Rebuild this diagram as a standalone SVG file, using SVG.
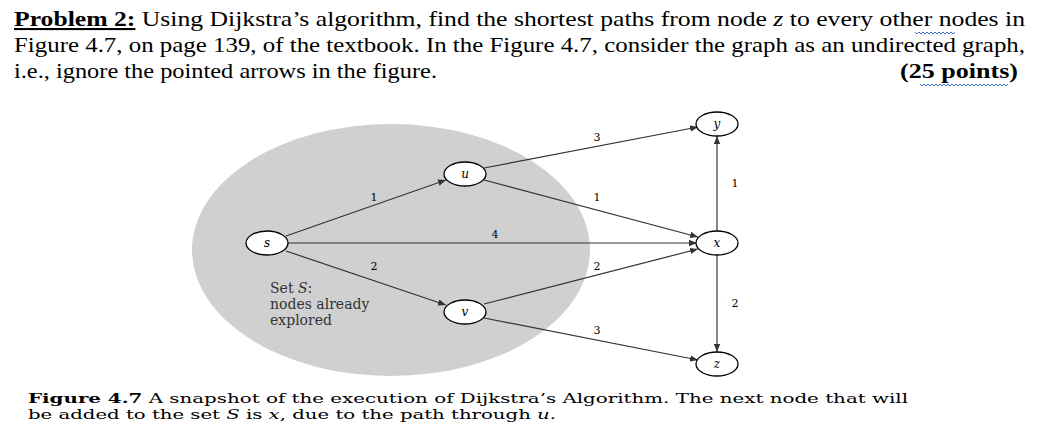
<svg xmlns="http://www.w3.org/2000/svg" width="1042" height="440" viewBox="0 0 1042 440">
<style>
.t{font-family:"Liberation Serif",serif;font-size:21px;fill:#000}
.n{fill:#fff;stroke:#000;stroke-width:1.3}
.nl{font-family:"DejaVu Serif",serif;font-style:italic;font-size:12px;text-anchor:middle}
.w{font-family:"DejaVu Serif",serif;font-size:11px;text-anchor:middle}
.e{stroke:#333;stroke-width:1.2;fill:none;marker-end:url(#a)}
.c{font-family:"DejaVu Serif",serif;font-size:13px}
.sq{stroke:#3a6fd8;fill:none;stroke-width:1}
</style>
<defs><marker id="a" viewBox="0 0 10 10" refX="10" refY="5" markerWidth="8" markerHeight="8" orient="auto-start-reverse" markerUnits="userSpaceOnUse"><path d="M0,1 L10,5 L0,9 z" fill="#333"/></marker></defs>
<rect width="1042" height="440" fill="#fff"/>
<text class="t" x="14" y="26" textLength="1011" lengthAdjust="spacingAndGlyphs"><tspan font-weight="bold" text-decoration="underline">Problem 2:</tspan> Using Dijkstra’s algorithm, find the shortest paths from node <tspan font-style="italic">z</tspan> to every other nodes in</text>
<text class="t" x="14" y="52" textLength="1011" lengthAdjust="spacingAndGlyphs">Figure 4.7, on page 139, of the textbook. In the Figure 4.7, consider the graph as an undirected graph,</text>
<text class="t" x="14" y="78" textLength="423" lengthAdjust="spacingAndGlyphs">i.e., ignore the pointed arrows in the figure.</text>
<text class="t" x="900" y="78" font-weight="bold" textLength="118" lengthAdjust="spacingAndGlyphs">(25  points)</text>
<path class="sq" d="M915,32 l2,2 2,-2 2,2 2,-2 2,2 2,-2 2,2 2,-2 2,2 2,-2 2,2 2,-2 2,2 2,-2 2,2 2,-2 2,2 2,-2 2,2 2,-2"/>
<path class="sq" d="M920,84 l2,2 2,-2 2,2 2,-2 2,2 2,-2 2,2 2,-2 2,2 2,-2 2,2 2,-2 2,2 2,-2 2,2 2,-2 2,2 2,-2 2,2 2,-2 2,2 2,-2 2,2 2,-2 2,2 2,-2 2,2 2,-2 2,2 2,-2 2,2 2,-2 2,2 2,-2 2,2 2,-2 2,2 2,-2 2,2 2,-2 2,2 2,-2 2,2 2,-2"/>
<ellipse cx="391" cy="250" rx="199" ry="126" fill="#d0d0d0"/>
<g id="edges">
<line class="e" x1="286" y1="236" x2="446" y2="180"/>
<line class="e" x1="288" y1="243" x2="697" y2="243"/>
<line class="e" x1="286" y1="251" x2="446" y2="305"/>
<line class="e" x1="484" y1="168" x2="698" y2="127"/>
<line class="e" x1="484" y1="180" x2="698" y2="237"/>
<line class="e" x1="484" y1="304" x2="698" y2="249"/>
<line class="e" x1="484" y1="318" x2="698" y2="360"/>
<line class="e" x1="717" y1="231" x2="717" y2="136"/>
<line class="e" x1="717" y1="255" x2="717" y2="352"/>
</g>
<g id="labels">
<text class="w" x="597" y="141">3</text>
<text class="w" x="374" y="201">1</text>
<text class="w" x="597" y="201">1</text>
<text class="w" x="495" y="238">4</text>
<text class="w" x="374" y="270">2</text>
<text class="w" x="597" y="270">2</text>
<text class="w" x="597" y="334">3</text>
<text class="w" x="735" y="187">1</text>
<text class="w" x="735" y="307">2</text>
</g>
<g id="s"><ellipse class="n" cx="267" cy="243" rx="21" ry="12"/><text class="nl" x="267" y="247">s</text></g>
<g id="u"><ellipse class="n" cx="465" cy="174" rx="21" ry="12"/><text class="nl" x="465" y="178">u</text></g>
<g id="v"><ellipse class="n" cx="465" cy="312" rx="21" ry="12"/><text class="nl" x="465" y="316">v</text></g>
<g id="y"><ellipse class="n" cx="717" cy="124" rx="21" ry="12"/><text class="nl" x="717" y="128">y</text></g>
<g id="x"><ellipse class="n" cx="717" cy="243" rx="21" ry="12"/><text class="nl" x="717" y="247">x</text></g>
<g id="z"><ellipse class="n" cx="717" cy="364" rx="21" ry="12"/><text class="nl" x="717" y="368">z</text></g>
<g font-family="DejaVu Serif,serif" font-size="14" fill="#333">
<text x="270" y="293">Set <tspan font-style="italic">S</tspan>:</text>
<text x="270" y="309">nodes already</text>
<text x="270" y="325">explored</text>
</g>
<text class="c" x="28" y="403" textLength="880" lengthAdjust="spacingAndGlyphs"><tspan font-weight="bold">Figure 4.7</tspan> A snapshot of the execution of Dijkstra’s Algorithm. The next node that will</text>
<text class="c" x="28" y="419" textLength="528" lengthAdjust="spacingAndGlyphs">be added to the set <tspan font-style="italic">S</tspan> is <tspan font-style="italic">x</tspan>, due to the path through <tspan font-style="italic">u</tspan>.</text>
</svg>
